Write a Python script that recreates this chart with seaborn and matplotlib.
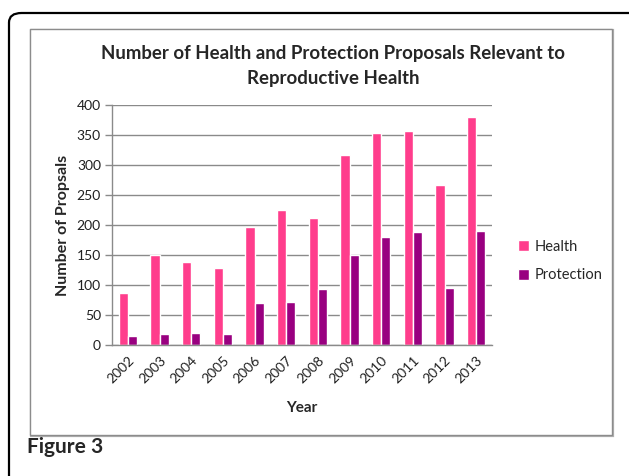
import pandas as pd
import matplotlib.pyplot as plt
import seaborn as sns
from matplotlib.patches import FancyBboxPatch, Rectangle

sns.set_style("white")
plt.rcParams['font.family'] = ['Lato', 'DejaVu Sans']

# data
years = ['2002', '2003', '2004', '2005', '2006', '2007',
         '2008', '2009', '2010', '2011', '2012', '2013']
health = [87, 150, 138, 129, 196, 225, 212, 317, 353, 356, 267, 380]
protection = [15, 19, 20, 18, 70, 72, 93, 150, 180, 188, 95, 190]

df = pd.DataFrame({'Year': years * 2,
                   'Count': health + protection,
                   'Series': ['Health'] * 12 + ['Protection'] * 12})

fig = plt.figure(figsize=(6.29, 4.76), dpi=100)
W, H = 629, 476

# outer rounded frame (runs off right and bottom edges)
outer = FancyBboxPatch((9 / W, -0.2), 1.2, (476 - 13) / H + 0.2,
                       boxstyle="round,pad=0,rounding_size=0.02",
                       transform=fig.transFigure, fill=False,
                       edgecolor='black', linewidth=1.6, zorder=0)
fig.patches.append(outer)

# inner chart box with light shadow
shadow = Rectangle((31 / W, 1 - 436 / H), (612 - 30) / W, (436 - 30) / H,
                   transform=fig.transFigure, fill=False,
                   edgecolor='#b0b0b0', linewidth=1.6, zorder=0)
fig.patches.append(shadow)
inner = Rectangle((30 / W, 1 - 435 / H), (612 - 30) / W, (435 - 29) / H,
                  transform=fig.transFigure, facecolor='white',
                  edgecolor='#8c8c8c', linewidth=1.0, zorder=0)
fig.patches.append(inner)

ax = fig.add_axes([112 / W, 1 - 345 / H, (492 - 112) / W, (345 - 105) / H])
ax.set_zorder(2)
ax.patch.set_alpha(0)

sns.barplot(data=df, x='Year', y='Count', hue='Series',
            palette=['#ff3d8c', '#990080'], width=0.57, ax=ax,
            saturation=1, legend=True)

ax.set_ylim(0, 400)
ax.set_yticks(range(0, 401, 50))
ax.yaxis.grid(True, color='#8a8a8a', linewidth=1.0)
ax.set_axisbelow(True)
for s in ['top', 'right']:
    ax.spines[s].set_visible(False)
for s in ['left', 'bottom']:
    ax.spines[s].set_color('#8a8a8a')
    ax.spines[s].set_linewidth(1.0)
ax.tick_params(axis='y', which='both', left=True, length=5, width=1,
               color='#8a8a8a', labelsize=10, labelcolor='#202020', pad=3)
ax.tick_params(axis='x', bottom=False, labelsize=10, labelcolor='#202020', pad=3)
plt.setp(ax.get_xticklabels(), rotation=45, ha='right', rotation_mode='anchor')

ax.set_xlabel('Year', fontsize=11, fontweight='bold', labelpad=11)
ax.set_ylabel('Number of Propsals', fontsize=11.5, fontweight='bold', labelpad=5)

fig.text(333 / W, 1 - 66 / H, 'Number of Health and Protection Proposals Relevant to\nReproductive Health',
         ha='center', va='center', fontsize=13.4, fontweight='bold',
         linespacing=1.55)

ax.legend(loc='center left', bbox_to_anchor=(1.068, 0.35), frameon=False,
          fontsize=10.5, handlelength=0.75, handleheight=0.75,
          handletextpad=0.4, labelspacing=1.0, borderpad=0, borderaxespad=0)

fig.text(27 / W, 1 - 447 / H, 'Figure 3', ha='left', va='center',
         fontsize=15, fontweight='bold')

fig.savefig('out.png', dpi=100)
